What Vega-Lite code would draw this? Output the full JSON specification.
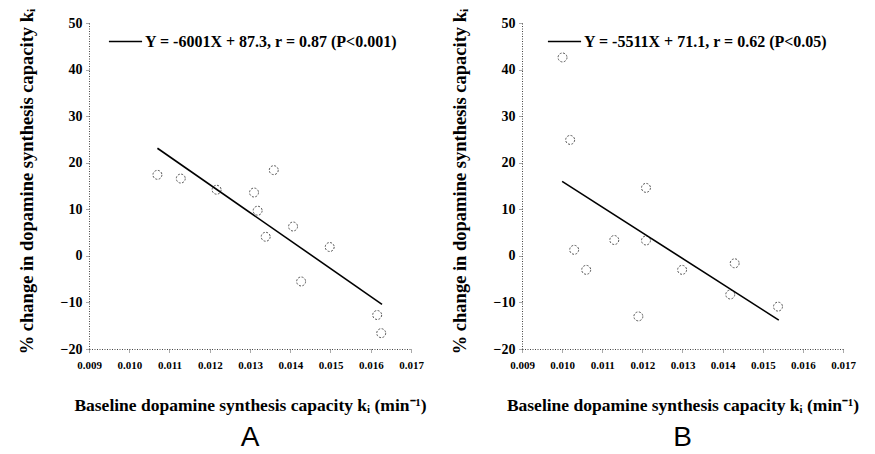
{
  "$schema": "https://vega.github.io/schema/vega-lite/v6.json",
  "background": "white",
  "padding": {"left": 17, "top": 8, "right": 0, "bottom": 0},
  "spacing": 23,
  "datasets": {
    "ptsA": [
      {"x": 0.0107, "y": 17.4}, {"x": 0.01128, "y": 16.6}, {"x": 0.01217, "y": 14.2},
      {"x": 0.0131, "y": 13.6}, {"x": 0.01319, "y": 9.7}, {"x": 0.01359, "y": 18.4},
      {"x": 0.01339, "y": 4.1}, {"x": 0.01407, "y": 6.3}, {"x": 0.01498, "y": 1.9},
      {"x": 0.01427, "y": -5.5}, {"x": 0.01616, "y": -12.7}, {"x": 0.01626, "y": -16.6}
    ],
    "fitA": [
      {"x": 0.0107, "y": 23.1, "label": "Y = -6001X + 87.3, r = 0.87 (P<0.001)"},
      {"x": 0.01628, "y": -10.4, "label": "Y = -6001X + 87.3, r = 0.87 (P<0.001)"}
    ],
    "ptsB": [
      {"x": 0.01001, "y": 42.6}, {"x": 0.0102, "y": 24.9}, {"x": 0.0103, "y": 1.3},
      {"x": 0.0106, "y": -3.0}, {"x": 0.0113, "y": 3.4}, {"x": 0.0119, "y": -13.0},
      {"x": 0.01209, "y": 14.6}, {"x": 0.01209, "y": 3.3}, {"x": 0.01299, "y": -3.0},
      {"x": 0.01419, "y": -8.3}, {"x": 0.0143, "y": -1.6}, {"x": 0.01538, "y": -10.9}
    ],
    "fitB": [
      {"x": 0.0100, "y": 16.0, "label": "Y = -5511X + 71.1, r = 0.62 (P<0.05)"},
      {"x": 0.0154, "y": -13.8, "label": "Y = -5511X + 71.1, r = 0.62 (P<0.05)"}
    ]
  },
  "config": {
    "view": {"stroke": null},
    "font": "Liberation Serif",
    "axis": {
      "domainColor": "#444", "domainDash": [1, 1.5], "domainWidth": 1,
      "tickColor": "#555", "tickSize": 4, "tickDash": [1, 1],
      "grid": false, "labelFlush": false,
      "labelFont": "Liberation Serif", "labelFontWeight": "bold", "labelColor": "black",
      "titleFont": "Liberation Serif", "titleFontWeight": "bold", "titleColor": "black"
    },
    "axisX": {"labelFontSize": 11, "titleFontSize": 17.5, "titlePadding": 26, "labelPadding": 6},
    "axisY": {"labelFontSize": 14, "titleFontSize": 18.5, "titlePadding": 24, "labelPadding": 3, "titleY": 158},
    "legend": {
      "orient": "none", "padding": 0, "symbolType": "stroke", "symbolSize": 1100,
      "symbolStrokeWidth": 1.6, "labelFont": "Liberation Serif", "labelFontWeight": "bold",
      "labelFontSize": 16, "labelColor": "black", "labelOffset": 2, "labelLimit": 400
    },
    "title": {"font": "Liberation Sans", "fontSize": 28, "fontWeight": "normal", "color": "black", "orient": "bottom", "offset": 10}
  },
  "hconcat": [
    {
      "width": 322, "height": 326,
      "title": {"text": "A", "orient": "bottom"},
      "layer": [
        {
          "data": {"name": "ptsA"},
          "mark": {"type": "point", "shape": "circle", "filled": false, "size": 80, "stroke": "#555", "strokeWidth": 1, "strokeDash": [2, 1.5], "opacity": 1},
          "encoding": {
            "x": {"field": "x", "type": "quantitative", "scale": {"domain": [0.009, 0.017], "nice": false, "zero": false},
                  "axis": {"values": [0.009, 0.01, 0.011, 0.012, 0.013, 0.014, 0.015, 0.016, 0.017], "format": ".3f", "title": "Baseline dopamine synthesis capacity kᵢ (min⁻¹)"}},
            "y": {"field": "y", "type": "quantitative", "scale": {"domain": [-20, 50], "nice": false, "zero": false},
                  "axis": {"values": [-20, -10, 0, 10, 20, 30, 40, 50], "title": "% change in dopamine synthesis capacity kᵢ"}}
          }
        },
        {
          "data": {"name": "fitA"},
          "mark": {"type": "line", "strokeWidth": 1.6},
          "encoding": {
            "x": {"field": "x", "type": "quantitative"},
            "y": {"field": "y", "type": "quantitative"},
            "color": {"field": "label", "type": "nominal", "scale": {"range": ["black"]},
                      "legend": {"title": null, "legendX": 19, "legendY": 1}}
          }
        }
      ]
    },
    {
      "width": 321, "height": 326,
      "title": {"text": "B", "orient": "bottom"},
      "resolve": {"scale": {"color": "independent"}},
      "layer": [
        {
          "data": {"name": "ptsB"},
          "mark": {"type": "point", "shape": "circle", "filled": false, "size": 80, "stroke": "#555", "strokeWidth": 1, "strokeDash": [2, 1.5], "opacity": 1},
          "encoding": {
            "x": {"field": "x", "type": "quantitative", "scale": {"domain": [0.009, 0.017], "nice": false, "zero": false},
                  "axis": {"values": [0.009, 0.01, 0.011, 0.012, 0.013, 0.014, 0.015, 0.016, 0.017], "format": ".3f", "title": "Baseline dopamine synthesis capacity kᵢ (min⁻¹)"}},
            "y": {"field": "y", "type": "quantitative", "scale": {"domain": [-20, 50], "nice": false, "zero": false},
                  "axis": {"values": [-20, -10, 0, 10, 20, 30, 40, 50], "title": "% change in dopamine synthesis capacity kᵢ"}}
          }
        },
        {
          "data": {"name": "fitB"},
          "mark": {"type": "line", "strokeWidth": 1.6},
          "encoding": {
            "x": {"field": "x", "type": "quantitative"},
            "y": {"field": "y", "type": "quantitative"},
            "color": {"field": "label", "type": "nominal", "scale": {"range": ["black"]},
                      "legend": {"title": null, "legendX": 25, "legendY": 1}}
          }
        }
      ]
    }
  ],
  "resolve": {"scale": {"color": "independent"}}
}
